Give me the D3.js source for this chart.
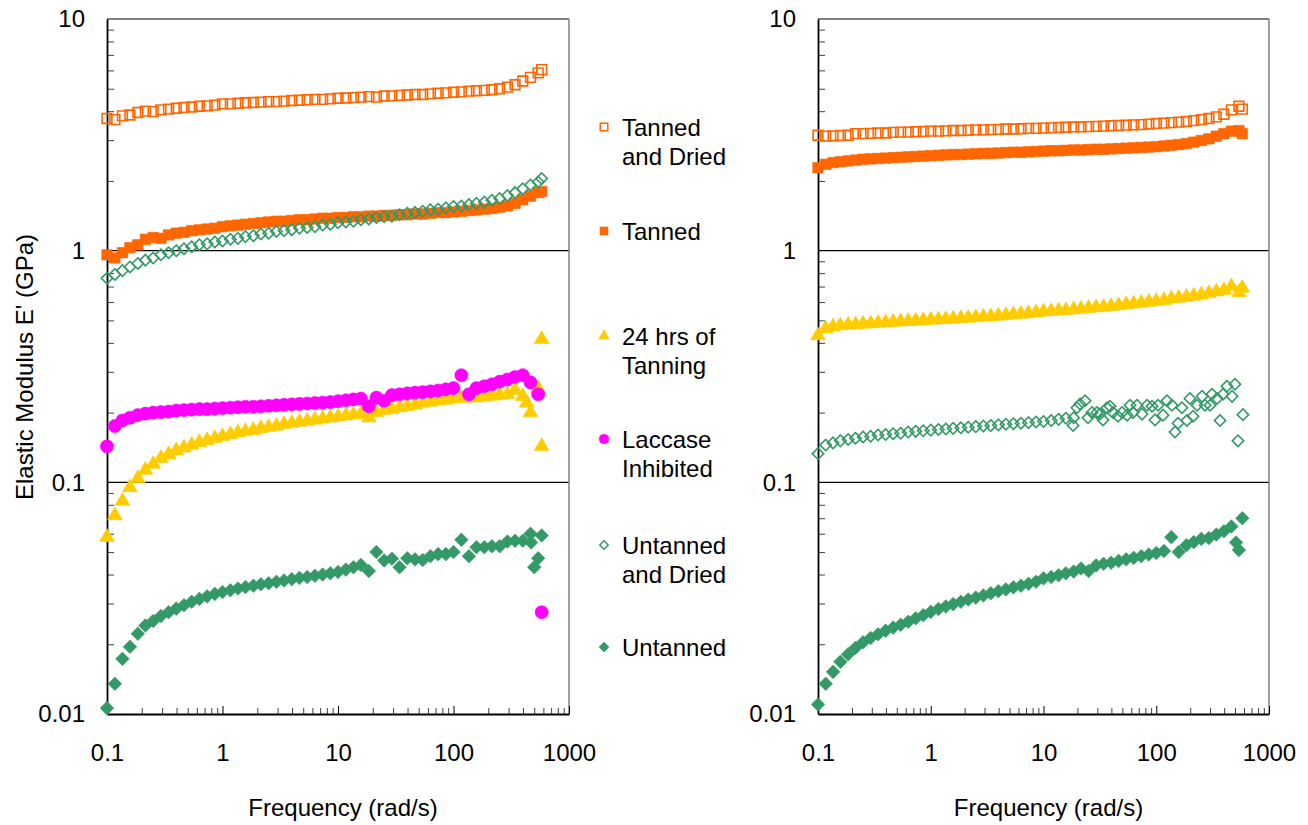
<!DOCTYPE html>
<html>
<head>
<meta charset="utf-8">
<script src="https://cdn.jsdelivr.net/npm/d3@7"></script>
<style>
  body { margin: 0; background: #fff; }
  text { font-family: "Liberation Sans", Arial, sans-serif; fill: #000; }
</style>
</head>
<body>
<script>
// frequency sweep (rad/s), shared by every series
const freq = [0.1, 0.117, 0.136, 0.158, 0.185, 0.215, 0.251, 0.293, 0.341, 0.398, 0.464, 0.541, 0.631, 0.736, 0.858,
  1, 1.17, 1.36, 1.58, 1.85, 2.15, 2.51, 2.93, 3.41, 3.98, 4.64, 5.41, 6.31, 7.36, 8.58,
  10, 11.7, 13.6, 15.8, 18.5, 21.5, 25.1, 29.3, 34.1, 39.8, 46.4, 54.1, 63.1, 73.6, 85.8,
  100, 117, 136, 158, 185, 215, 251, 293, 341, 398, 464, 541, 580];

// left panel, E' in GPa
const leftTannedDried = [3.72, 3.68, 3.82, 3.85, 3.95, 4.0, 3.98, 4.05, 4.08, 4.12, 4.15, 4.17, 4.2, 4.22, 4.25,
  4.3, 4.3, 4.33, 4.35, 4.36, 4.38, 4.4, 4.4, 4.42, 4.45, 4.46, 4.48, 4.5, 4.5, 4.52,
  4.55, 4.56, 4.58, 4.6, 4.62, 4.6, 4.65, 4.66, 4.68, 4.7, 4.72, 4.72, 4.75, 4.78, 4.8,
  4.83, 4.85, 4.88, 4.9, 4.92, 4.95, 5.0, 5.08, 5.2, 5.4, 5.6, 5.85, 6.05];
const leftTanned = [0.96, 0.93, 0.98, 1.03, 1.06, 1.12, 1.14, 1.13, 1.17, 1.19, 1.2, 1.22, 1.23, 1.24, 1.25,
  1.27, 1.28, 1.29, 1.3, 1.31, 1.32, 1.33, 1.34, 1.34, 1.35, 1.36, 1.36, 1.37, 1.38, 1.38,
  1.39, 1.39, 1.4, 1.4, 1.41, 1.41, 1.42, 1.42, 1.43, 1.43, 1.44, 1.44, 1.45, 1.46, 1.46,
  1.47, 1.48, 1.49, 1.5, 1.51, 1.52, 1.54, 1.56, 1.6, 1.66, 1.72, 1.78, 1.8];
const left24h = [0.058, 0.072, 0.083, 0.095, 0.104, 0.113, 0.12, 0.127, 0.132, 0.137, 0.141, 0.145, 0.149, 0.152, 0.155,
  0.158, 0.161, 0.164, 0.166, 0.168, 0.171, 0.173, 0.175, 0.178, 0.18, 0.182, 0.184, 0.186, 0.188, 0.19,
  0.192, 0.194, 0.196, 0.197, 0.19, 0.2, 0.205, 0.207, 0.21, 0.213, 0.216, 0.22, 0.222, 0.225, 0.227,
  0.23, 0.231, 0.232, 0.232, 0.234, 0.236, 0.238, 0.24, 0.25, 0.235, 0.2, 0.255, 0.415];
const left24hExtraFreq = [430, 580];
const left24hExtraVal = [0.22, 0.143];
const leftLaccase = [0.143, 0.175, 0.185, 0.19, 0.195, 0.198, 0.2, 0.201, 0.202, 0.204, 0.205, 0.206, 0.207, 0.207, 0.208,
  0.209, 0.21, 0.211, 0.212, 0.212, 0.213, 0.214, 0.215, 0.216, 0.217, 0.218, 0.219, 0.22, 0.221, 0.222,
  0.224, 0.226, 0.228, 0.23, 0.213, 0.232, 0.225, 0.238, 0.24, 0.242, 0.244, 0.245, 0.247, 0.249, 0.252,
  0.255, 0.29, 0.24, 0.255, 0.26, 0.265, 0.272, 0.278, 0.285, 0.29, 0.27, 0.24, 0.0275];
const leftUntannedDried = [0.76, 0.79, 0.82, 0.85, 0.88, 0.91, 0.93, 0.96, 0.98, 1.0, 1.02, 1.04, 1.06, 1.07, 1.09,
  1.1, 1.12, 1.13, 1.15, 1.16, 1.18, 1.19, 1.21, 1.22, 1.23, 1.25, 1.26, 1.27, 1.29, 1.3,
  1.32, 1.33, 1.34, 1.36, 1.37, 1.39, 1.4, 1.41, 1.43, 1.45, 1.46, 1.48, 1.5, 1.51, 1.53,
  1.55, 1.56, 1.58, 1.6, 1.62, 1.65, 1.68, 1.73, 1.78, 1.85, 1.92, 1.98, 2.05];
const leftUntanned = [0.0106, 0.0135, 0.0173, 0.0195, 0.0222, 0.0241, 0.0252, 0.0265, 0.0275, 0.0285, 0.0295, 0.0305, 0.0314, 0.0322, 0.033,
  0.0336, 0.0342, 0.0348, 0.0353, 0.0358, 0.0363, 0.0367, 0.0372, 0.0377, 0.0382, 0.0387, 0.039, 0.0395, 0.04, 0.0405,
  0.041, 0.042, 0.043, 0.044, 0.0414, 0.05, 0.046, 0.0468, 0.043, 0.047, 0.0465, 0.0462, 0.048, 0.049, 0.049,
  0.05, 0.0565, 0.048, 0.0525, 0.0525, 0.053, 0.053, 0.0555, 0.056, 0.056, 0.06, 0.047, 0.059];
const leftUntannedExtraFreq = [470, 500];
const leftUntannedExtraVal = [0.055, 0.043];

// right panel, E' in GPa
const rightTannedDried = [3.15, 3.12, 3.13, 3.14, 3.15, 3.2, 3.2, 3.21, 3.22, 3.22, 3.24, 3.25, 3.25, 3.26, 3.27,
  3.28, 3.28, 3.29, 3.3, 3.3, 3.31, 3.32, 3.32, 3.33, 3.34, 3.35, 3.35, 3.36, 3.37, 3.37,
  3.38, 3.39, 3.4, 3.41, 3.42, 3.42, 3.43, 3.44, 3.45, 3.46, 3.47, 3.48, 3.49, 3.5, 3.52,
  3.54, 3.55, 3.57, 3.59, 3.61, 3.64, 3.68, 3.72, 3.78, 3.88, 4.05, 4.2, 4.08];
const rightTanned = [2.28, 2.36, 2.4, 2.42, 2.44, 2.46, 2.48, 2.49, 2.5, 2.51, 2.52, 2.53, 2.54, 2.55, 2.56,
  2.57, 2.58, 2.59, 2.6, 2.6, 2.61, 2.62, 2.63, 2.63, 2.64, 2.65, 2.66, 2.66, 2.67, 2.68,
  2.69, 2.7, 2.7, 2.71, 2.72, 2.72, 2.73, 2.74, 2.74, 2.75, 2.76, 2.77, 2.78, 2.79, 2.8,
  2.81, 2.83, 2.85, 2.87, 2.9, 2.94, 2.99, 3.04, 3.12, 3.2, 3.28, 3.3, 3.2];
const right24h = [0.43, 0.46, 0.47, 0.475, 0.478, 0.48, 0.483, 0.485, 0.487, 0.49, 0.492, 0.494, 0.496, 0.498, 0.5,
  0.502, 0.504, 0.506, 0.508, 0.51, 0.512, 0.515, 0.518, 0.52, 0.523, 0.526, 0.53, 0.533, 0.536, 0.54,
  0.545, 0.548, 0.55, 0.553, 0.557, 0.56, 0.565, 0.568, 0.572, 0.575, 0.58, 0.585, 0.59, 0.595, 0.6,
  0.605, 0.61, 0.62, 0.625, 0.63, 0.638, 0.645, 0.655, 0.665, 0.675, 0.7, 0.66, 0.69];
// smooth part up to ~18 rad/s, then the noisy tail
const rightUntannedDried = [0.133, 0.145, 0.148, 0.151, 0.153, 0.155, 0.157, 0.158, 0.16, 0.161, 0.162, 0.163, 0.165, 0.166, 0.167,
  0.168, 0.169, 0.17, 0.171, 0.172, 0.173, 0.174, 0.175, 0.176, 0.177, 0.178, 0.179, 0.18, 0.181, 0.182,
  0.183, 0.185, 0.187, 0.189, 0.19];
const rightUntannedDriedTailFreq = [18.3, 19.8, 21.1, 23.4, 24.8, 26.9, 29.8, 31.7, 33.7, 36.6, 38.9, 41.3, 45.8, 49.7, 55.1,
  58.5, 62.2, 67.5, 74.8, 82.8, 91.7, 97.5, 103.7, 114.8, 124.6, 138, 146.6, 156, 169, 187,
  199, 212, 230, 255, 271, 300, 312, 346, 368, 391, 424, 470, 499, 531, 588];
const rightUntannedDriedTailVal = [0.176, 0.21, 0.218, 0.225, 0.19, 0.2, 0.2, 0.197, 0.186, 0.21, 0.213, 0.2, 0.193, 0.2, 0.195,
  0.215, 0.2, 0.215, 0.197, 0.215, 0.213, 0.186, 0.215, 0.195, 0.225, 0.215, 0.165, 0.18, 0.21, 0.185,
  0.23, 0.193, 0.215, 0.235, 0.215, 0.215, 0.24, 0.23, 0.185, 0.24, 0.26, 0.235, 0.265, 0.151, 0.196];
const rightUntanned = [0.011, 0.0135, 0.0152, 0.0168, 0.0181, 0.0193, 0.0204, 0.0213, 0.0221, 0.0229, 0.0236, 0.0243, 0.025, 0.0259, 0.0267,
  0.0276, 0.0284, 0.0291, 0.0298, 0.0305, 0.0312, 0.0318, 0.0325, 0.0332, 0.0339, 0.0345, 0.0352, 0.0358, 0.0365, 0.0372,
  0.0385, 0.039, 0.0397, 0.0405, 0.0412, 0.0425, 0.0414, 0.0438, 0.0445, 0.045, 0.0458, 0.0465, 0.0472, 0.048, 0.0488,
  0.0495, 0.0505, 0.058, 0.05, 0.0535, 0.0552, 0.057, 0.0575, 0.0595, 0.0615, 0.0645, 0.051, 0.07];
const rightUntannedExtraFreq = [510];
const rightUntannedExtraVal = [0.055];

const xTicks = [0.1, 1, 10, 100, 1000];
const yTicks = [0.01, 0.1, 1, 10];
const legendLines = [["Tanned", "and Dried"], ["Tanned"], ["24 hrs of", "Tanning"], ["Laccase", "Inhibited"], ["Untanned", "and Dried"], ["Untanned"]];

// marker styles, one per legend entry
const ORANGE = "#FF6600", YELLOW = "#FFCC00", PINK = "#FF00FF", GREEN = "#339966";
const styles = [
  {shape: "square", color: ORANGE, filled: false},
  {shape: "square", color: ORANGE, filled: true},
  {shape: "triangle", color: YELLOW, filled: true},
  {shape: "circle", color: PINK, filled: true},
  {shape: "diamond", color: GREEN, filled: false},
  {shape: "diamond", color: GREEN, filled: true}
];

const svg = d3.select("body")
  .append("svg")
  .attr("width", 1308)
  .attr("height", 825);

svg.append("rect").attr("width", 1308).attr("height", 825).attr("fill", "#fff");

function pairs(fs, vs) {
  return vs.map((v, i) => ({f: fs[i], v: v})).filter(d => d.v != null);
}

function symbolFor(style, scale) {
  let type = d3.symbolSquare, size = 110;
  if (style.shape === "triangle") { type = d3.symbolTriangle; size = 95; }
  if (style.shape === "circle") { type = d3.symbolCircle; size = 135; }
  if (style.shape === "diamond") { type = d3.symbolSquare; size = style.filled ? 92 : 64; }
  if (style.shape === "square" && !style.filled) size = 95;
  return d3.symbol(type, size * scale)();
}

function addMarkers(g, data, style, x, y, scale) {
  g.selectAll(null)
    .data(data)
    .enter()
    .append("path")
    .attr("d", symbolFor(style, scale))
    .attr("transform", d => `translate(${x(d.f)},${y(d.v)})` + (style.shape === "diamond" ? " rotate(45)" : ""))
    .attr("fill", style.filled ? style.color : "none")
    .attr("stroke", style.color)
    .attr("stroke-width", style.filled ? 0.6 : 1.6);
}

function drawPanel(x0, x1, series) {
  const x = d3.scaleLog().domain([0.1, 1000]).range([x0, x1]);
  const y = d3.scaleLog().domain([0.01, 10]).range([714, 19]);
  const g = svg.append("g");

  // major gridlines (10, 1, 0.1)
  g.selectAll(null)
    .data([10, 1, 0.1])
    .enter()
    .append("line")
    .attr("x1", x0).attr("x2", x1)
    .attr("y1", d => y(d)).attr("y2", d => y(d))
    .attr("stroke", "#000").attr("stroke-width", 1.2);

  // right border of plot area
  g.append("line")
    .attr("x1", x1).attr("x2", x1).attr("y1", 19).attr("y2", 714)
    .attr("stroke", "#808080").attr("stroke-width", 1.5);

  const minorY = [];
  const minorX = [];
  [0.01, 0.1, 1].forEach(d => { for (let k = 2; k <= 9; k++) minorY.push(d * k); });
  [0.1, 1, 10, 100].forEach(d => { for (let k = 2; k <= 9; k++) minorX.push(d * k); });

  // minor ticks pointing inward
  g.append("g")
    .attr("transform", `translate(${x0},0)`)
    .call(d3.axisLeft(y).tickValues(minorY).tickFormat("").tickSize(-7).tickSizeOuter(0))
    .call(a => a.select(".domain").remove())
    .call(a => a.selectAll("line").attr("stroke", "#404040"));

  g.append("g")
    .attr("transform", "translate(0,714)")
    .call(d3.axisBottom(x).tickValues(minorX).tickFormat("").tickSize(-6).tickSizeOuter(0))
    .call(a => a.select(".domain").remove())
    .call(a => a.selectAll("line").attr("stroke", "#404040"));

  // y axis with labels
  g.append("g")
    .attr("transform", `translate(${x0},0)`)
    .call(d3.axisLeft(y).tickValues(yTicks).tickFormat(d3.format("~g")).tickSize(0).tickSizeOuter(0).tickPadding(22))
    .call(a => a.select(".domain").attr("stroke", "#000").attr("stroke-width", 1.8))
    .call(a => a.selectAll("text").attr("font-size", 24).attr("font-family", "Liberation Sans, Arial, sans-serif").attr("fill", "#000"));

  // x axis with labels
  g.append("g")
    .attr("transform", "translate(0,714)")
    .call(d3.axisBottom(x).tickValues(xTicks).tickFormat(d3.format("~g")).tickSize(-8).tickSizeOuter(0).tickPadding(30))
    .call(a => a.select(".domain").attr("stroke", "#000").attr("stroke-width", 1.8))
    .call(a => a.selectAll("line").attr("stroke", "#000"))
    .call(a => a.selectAll("text").attr("y", 47).attr("dy", 0).attr("font-size", 24).attr("font-family", "Liberation Sans, Arial, sans-serif").attr("fill", "#000"));

  g.append("text")
    .attr("x", (x0 + x1) / 2 + 5)
    .attr("y", 816)
    .attr("text-anchor", "middle")
    .attr("font-size", 24)
    .text("Frequency (rad/s)");

  series.forEach(s => {
    addMarkers(g, s.data, styles[s.style], x, y, 1);
  });
}

drawPanel(107, 569, [
  {style: 0, data: pairs(freq, leftTannedDried)},
  {style: 1, data: pairs(freq, leftTanned)},
  {style: 2, data: pairs(freq, left24h).concat(pairs(left24hExtraFreq, left24hExtraVal))},
  {style: 3, data: pairs(freq, leftLaccase)},
  {style: 4, data: pairs(freq, leftUntannedDried)},
  {style: 5, data: pairs(freq, leftUntanned).concat(pairs(leftUntannedExtraFreq, leftUntannedExtraVal))}
]);

drawPanel(818, 1269, [
  {style: 0, data: pairs(freq, rightTannedDried)},
  {style: 1, data: pairs(freq, rightTanned)},
  {style: 2, data: pairs(freq, right24h)},
  {style: 4, data: pairs(freq, rightUntannedDried).concat(pairs(rightUntannedDriedTailFreq, rightUntannedDriedTailVal))},
  {style: 5, data: pairs(freq, rightUntanned).concat(pairs(rightUntannedExtraFreq, rightUntannedExtraVal))}
]);

// y axis title
svg.append("text")
  .attr("transform", "translate(33,367) rotate(-90)")
  .attr("text-anchor", "middle")
  .attr("font-size", 24)
  .text("Elastic Modulus E' (GPa)");

// legend
const legendY = [127, 231, 336, 439, 545, 647];
const legend = svg.append("g");
legendLines.forEach((lines, i) => {
  const st = styles[i];
  legend.append("path")
    .attr("d", symbolFor(st, st.shape === "square" ? 0.6 : 0.55))
    .attr("transform", `translate(604,${legendY[i]})` + (st.shape === "diamond" ? " rotate(45)" : ""))
    .attr("fill", st.filled ? st.color : "none")
    .attr("stroke", st.color)
    .attr("stroke-width", st.filled ? 0.5 : 1.5);
  lines.forEach((t, j) => {
    legend.append("text")
      .attr("x", 622)
      .attr("y", legendY[i] + j * 29 + 8.5)
      .attr("font-size", 24)
      .text(t);
  });
});
</script>
</body>
</html>
